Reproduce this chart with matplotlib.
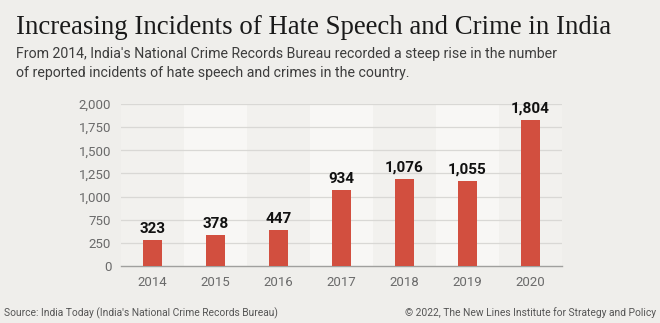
import matplotlib
matplotlib.use("Agg")
import matplotlib.pyplot as plt
import numpy as np

years = ["2014", "2015", "2016", "2017", "2018", "2019", "2020"]
incidents = [323, 378, 447, 934, 1076, 1055, 1804]
value_labels = ["323", "378", "447", "934", "1,076", "1,055", "1,804"]
ytick_labels = ["0", "250", "750", "1,000", "1,250", "1,500", "1,750", "2,000"]

title = "Increasing Incidents of Hate Speech and Crime in India"
subtitle_lines = ["From 2014, India's National Crime Records Bureau recorded a steep rise in the number",
                  "of reported incidents of hate speech and crimes in the country."]
source = "Source: India Today (India's National Crime Records Bureau)"
credit = "\u00a9 2022, The New Lines Institute for Strategy and Policy"

BG = "#efeeeb"
W, H = 660, 323
fig = plt.figure(figsize=(W / 100, H / 100), dpi=100, facecolor=BG)

ax = fig.add_axes([121 / W, (H - 266) / H, 441 / W, (266 - 104) / H])
ax.set_facecolor(BG)
x = np.arange(len(years))
ax.set_xlim(-0.5, len(years) - 0.5)
ax.set_ylim(0, 2000)

for i in x:
    ax.axvspan(i - 0.5, i + 0.5, color="#f8f7f5" if i % 2 else "#f2f1ee", zorder=0, lw=0)

yt = np.linspace(0, 2000, len(ytick_labels))
ax.set_yticks(yt)
ax.set_yticklabels(ytick_labels)
for v in yt[1:]:
    ax.axhline(v, color="#d9d8d5", lw=0.9, zorder=1)

ax.bar(x, incidents, width=0.3, color="#d24f3f", zorder=3)
for xi, v, lab in zip(x, incidents, value_labels):
    ax.annotate(lab, (xi, v), xytext=(0, 3), textcoords="offset points",
                ha="center", va="bottom", fontsize=11, fontweight="bold",
                family="Roboto", color="#111111")

ax.set_xticks(x)
ax.set_xticklabels(years)
for s in ["top", "right", "left"]:
    ax.spines[s].set_visible(False)
ax.spines["bottom"].set_color("#a0a09e")
ax.spines["bottom"].set_linewidth(1.0)
ax.tick_params(length=0, labelsize=9.5, labelcolor="#6a6a6a", pad=7)
for lab in ax.get_xticklabels() + ax.get_yticklabels():
    lab.set_family("Roboto")

fig.text(16 / W, 1 - 34 / H, title, family="Liberation Serif", fontsize=19.3,
         color="#1a1a1a", ha="left", va="baseline")
for k, line in enumerate(subtitle_lines):
    fig.text(16 / W, 1 - (58 + 19 * k) / H, line, family="Roboto", fontsize=10.2,
             color="#3d3d3d", ha="left", va="baseline", fontweight="normal")
fig.text(4 / W, 1 - 316 / H, source, family="Roboto", fontsize=7.4, color="#555555",
         ha="left", va="baseline")
fig.text(656 / W, 1 - 316 / H, credit, family="Roboto", fontsize=7.4, color="#555555",
         ha="right", va="baseline")

fig.savefig("out.png", dpi=100, facecolor=BG)
